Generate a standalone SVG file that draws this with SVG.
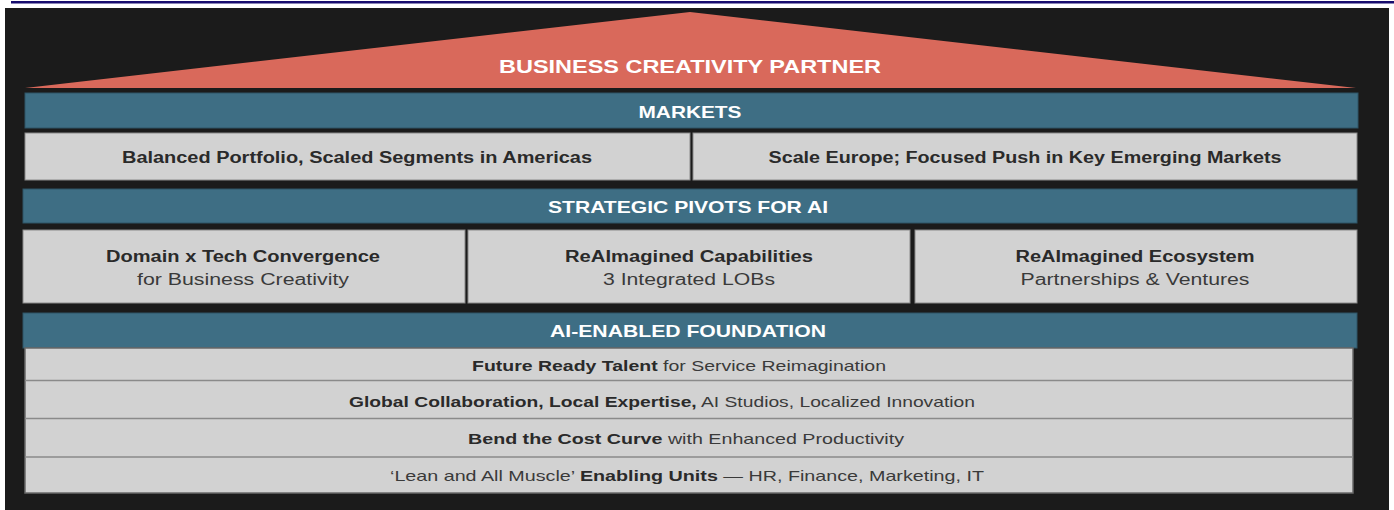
<svg xmlns="http://www.w3.org/2000/svg" width="1394" height="510" viewBox="0 0 1394 510">
<style>
.hdr{fill:#3e6e84;stroke:#2f5566;stroke-width:1}
.box{fill:#d2d2d2;stroke:#8a8a8a;stroke-width:1}
.ht{font-family:"Liberation Sans",Arial,sans-serif;font-weight:bold;fill:#ffffff;text-anchor:middle}
.bt{font-family:"Liberation Sans",Arial,sans-serif;font-weight:bold;fill:#2a2a2a;text-anchor:middle}
.rt{font-family:"Liberation Sans",Arial,sans-serif;fill:#3a3a3a;text-anchor:middle}
.b{font-weight:bold;fill:#2a2a2a}
.sep{stroke:#8a8a8a;stroke-width:1.5}
</style>
<rect x="0" y="0" width="1394" height="510" fill="#ffffff"/>
<rect x="11" y="1" width="1383" height="2.5" fill="#170c6e"/>
<rect x="5" y="8" width="1384" height="502" fill="#1b1b1b"/>

<g id="roof">
<polygon points="690,12 25,88 1356,88" fill="#d9695b"/>
<text class="ht" x="690" y="73" font-size="19" textLength="382" lengthAdjust="spacingAndGlyphs">BUSINESS CREATIVITY PARTNER</text>
</g>

<g id="markets-header">
<rect class="hdr" x="25" y="93" width="1333" height="35"/>
<text class="ht" x="690" y="118" font-size="16.5" textLength="103" lengthAdjust="spacingAndGlyphs">MARKETS</text>
</g>
<g id="market-americas">
<rect class="box" x="25" y="133" width="665" height="47"/>
<text class="bt" x="357" y="163" font-size="16" textLength="470" lengthAdjust="spacingAndGlyphs">Balanced Portfolio, Scaled Segments in Americas</text>
</g>
<g id="market-europe">
<rect class="box" x="693" y="133" width="664" height="47"/>
<text class="bt" x="1025" y="163" font-size="16" textLength="513" lengthAdjust="spacingAndGlyphs">Scale Europe; Focused Push in Key Emerging Markets</text>
</g>

<g id="pivots-header">
<rect class="hdr" x="23" y="189" width="1334" height="34"/>
<text class="ht" x="688" y="213" font-size="16.5" textLength="280" lengthAdjust="spacingAndGlyphs">STRATEGIC PIVOTS FOR AI</text>
</g>
<g id="pivot-domain">
<rect class="box" x="23" y="230" width="442" height="73"/>
<text class="bt" x="243" y="262" font-size="16" textLength="274" lengthAdjust="spacingAndGlyphs">Domain x Tech Convergence</text>
<text class="rt" x="243" y="285" font-size="16" textLength="212" lengthAdjust="spacingAndGlyphs">for Business Creativity</text>
</g>
<g id="pivot-capabilities">
<rect class="box" x="468" y="230" width="442" height="73"/>
<text class="bt" x="689" y="262" font-size="16" textLength="248" lengthAdjust="spacingAndGlyphs">ReAImagined Capabilities</text>
<text class="rt" x="689" y="285" font-size="16" textLength="172" lengthAdjust="spacingAndGlyphs">3 Integrated LOBs</text>
</g>
<g id="pivot-ecosystem">
<rect class="box" x="915" y="230" width="442" height="73"/>
<text class="bt" x="1135" y="262" font-size="16" textLength="239" lengthAdjust="spacingAndGlyphs">ReAImagined Ecosystem</text>
<text class="rt" x="1135" y="285" font-size="16" textLength="229" lengthAdjust="spacingAndGlyphs">Partnerships &amp; Ventures</text>
</g>

<g id="foundation-header">
<rect class="hdr" x="23" y="313" width="1334" height="35"/>
<text class="ht" x="688" y="337" font-size="16.5" textLength="276" lengthAdjust="spacingAndGlyphs">AI-ENABLED FOUNDATION</text>
</g>
<g id="foundation-rows">
<rect x="25" y="348" width="1328" height="145" fill="#d2d2d2" stroke="#6a6a6a" stroke-width="1.5"/>
<line class="sep" x1="25" y1="380.5" x2="1353" y2="380.5"/>
<line class="sep" x1="25" y1="418.5" x2="1353" y2="418.5"/>
<line class="sep" x1="25" y1="457" x2="1353" y2="457"/>
</g>
<g id="talent">
<text class="rt" x="679" y="371" font-size="15" textLength="414" lengthAdjust="spacingAndGlyphs"><tspan class="b">Future Ready Talent</tspan> for Service Reimagination</text>
</g>
<g id="collaboration">
<text class="rt" x="662" y="407" font-size="15" textLength="626" lengthAdjust="spacingAndGlyphs"><tspan class="b">Global Collaboration, Local Expertise,</tspan> AI Studios, Localized Innovation</text>
</g>
<g id="cost">
<text class="rt" x="686" y="444" font-size="15" textLength="436" lengthAdjust="spacingAndGlyphs"><tspan class="b">Bend the Cost Curve</tspan> with Enhanced Productivity</text>
</g>
<g id="enabling">
<text class="rt" x="687" y="481" font-size="15" textLength="594" lengthAdjust="spacingAndGlyphs">‘Lean and All Muscle’ <tspan class="b">Enabling Units</tspan> — HR, Finance, Marketing, IT</text>
</g>
<g id="connectors"></g>
</svg>
